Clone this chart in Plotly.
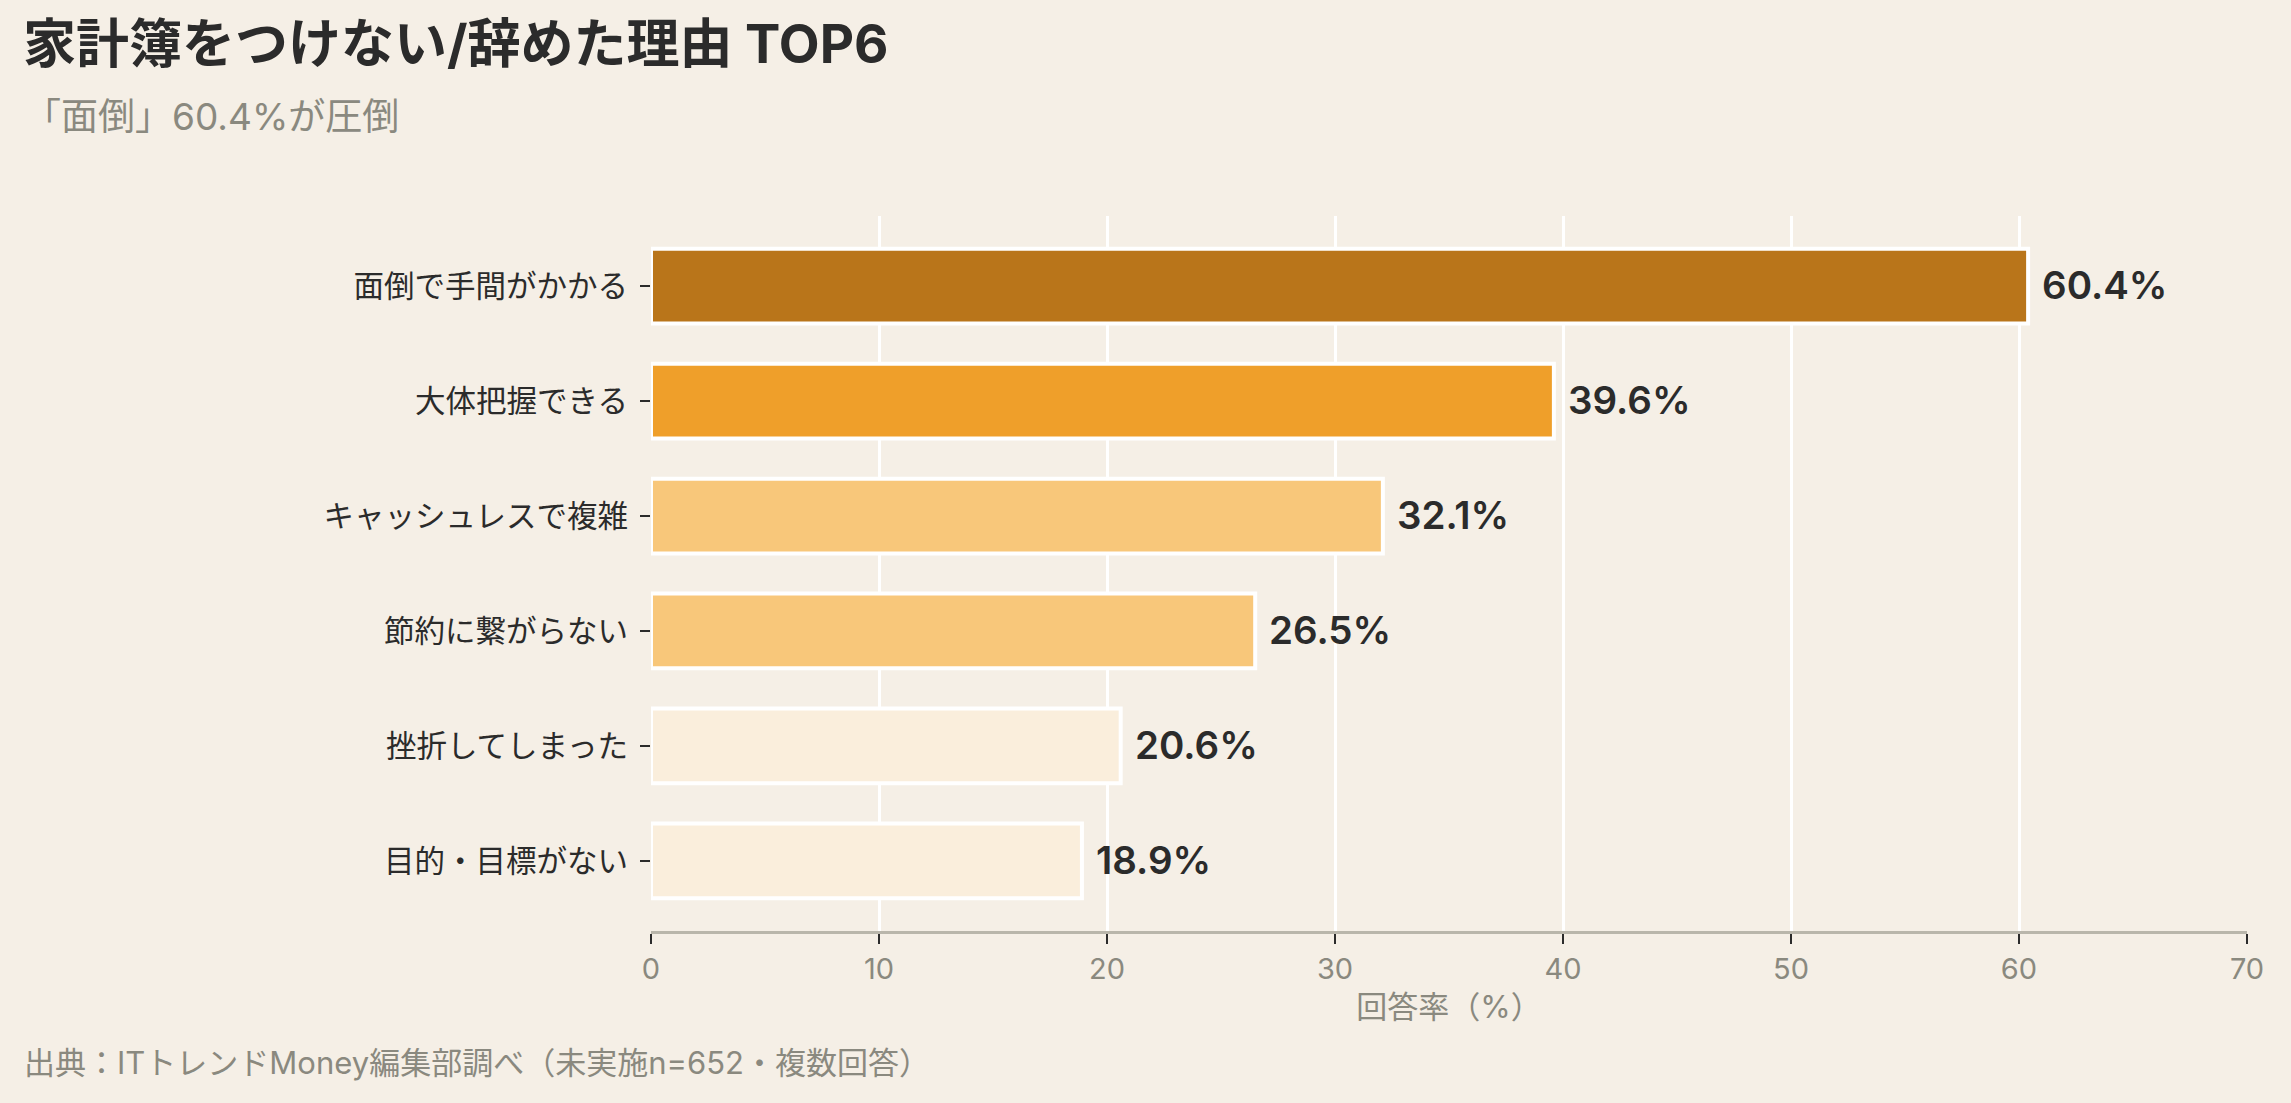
import plotly.graph_objects as go

categories = ["面倒で手間がかかる", "大体把握できる", "キャッシュレスで複雑", "節約に繋がらない", "挫折してしまった", "目的・目標がない"]
values = [60.4, 39.6, 32.1, 26.5, 20.6, 18.9]
bar_colors = ["#B9751A", "#EF9F2A", "#F8C77A", "#F8C77A", "#FAEEDC", "#FAEEDC"]
x_ticks = [0, 10, 20, 30, 40, 50, 60, 70]

title_text = "家計簿をつけない/辞めた理由 TOP6"
subtitle_text = "「面倒」60.4%が圧倒"
source_text = "出典：ITトレンドMoney編集部調べ（未実施n=652・複数回答）"
x_title = "回答率（%）"

W, H = 2291, 1103
L, R, T, B = 651, 44, 216, 172
PW, PH = W - L - R, H - T - B
FONT = "Inter, Noto Sans CJK JP, Noto Sans, sans-serif"
CJK = "Noto Sans CJK JP, Noto Sans, sans-serif"
BG = "#F5EFE6"


def px(xp):
    return (xp - L) / PW


def py(yp):
    return (H - B - yp) / PH


fig = go.Figure()
fig.add_trace(go.Bar(
    x=values, y=categories, orientation="h",
    width=0.65,
    marker=dict(color=bar_colors, line=dict(color="#FFFFFF", width=4)),
    hoverinfo="skip",
))

annotations = []
for c, v in zip(categories, values):
    annotations.append(dict(
        x=v, y=c, xref="x", yref="y", text=f"{v:.1f}%", showarrow=False,
        xanchor="left", yanchor="middle", xshift=12, yshift=1,
        font=dict(family=FONT, size=38.5, color="#2B2B2B", weight=600),
    ))

annotations += [
    dict(x=px(21), y=py(44), xref="paper", yref="paper", text=f"<b>{title_text}</b>",
         showarrow=False, xanchor="left", yanchor="middle",
         font=dict(family=FONT, size=53, color="#2B2B2B")),
    dict(x=px(22), y=py(116), xref="paper", yref="paper", text=subtitle_text,
         showarrow=False, xanchor="left", yanchor="middle",
         font=dict(family=FONT, size=37, color="#8A897F")),
    dict(x=px(22), y=py(1062), xref="paper", yref="paper", text=source_text,
         showarrow=False, xanchor="left", yanchor="middle",
         font=dict(family=FONT, size=31, color="#8A897F")),
]

fig.update_layout(
    width=W, height=H,
    margin=dict(l=L, r=R, t=T, b=B, pad=0),
    paper_bgcolor=BG, plot_bgcolor=BG,
    showlegend=False,
    annotations=annotations,
    font=dict(family=FONT, color="#2B2B2B"),
    xaxis=dict(
        range=[0, 70], tickvals=x_ticks, ticktext=[str(t) for t in x_ticks],
        showgrid=True, gridcolor="#FFFFFF", gridwidth=2.5,
        zeroline=False,
        showline=True, linecolor="#B9B6AB", linewidth=3,
        ticks="outside", ticklen=10, tickwidth=2, tickcolor="#2B2B2B",
        tickfont=dict(family=FONT, size=29, color="#8A897F"),
        title=dict(text=x_title, font=dict(family=FONT, size=31, color="#8A897F"), standoff=12),
        fixedrange=True,
    ),
    yaxis=dict(
        type="category", range=[5.61, -0.61],
        showgrid=False, zeroline=False, showline=False,
        ticks="outside", ticklen=10, tickwidth=2, tickcolor="#2B2B2B",
        tickfont=dict(family=CJK, size=30.5, color="#2B2B2B"),
        ticklabelstandoff=6,
        fixedrange=True,
    ),
)

fig.write_html("out.html")
